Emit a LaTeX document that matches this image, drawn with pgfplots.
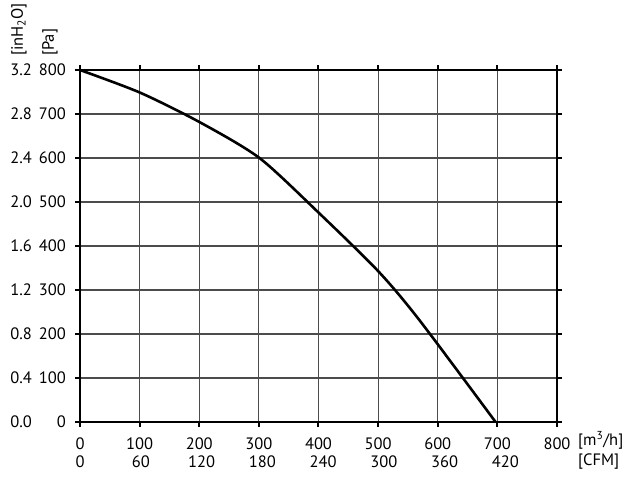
\documentclass[border=0pt]{standalone}
\usepackage{pgfplots}
\pgfplotsset{compat=1.18}
\usepackage{fontspec}
\setmainfont{PT Sans}
\newcommand{\fnt}{\fontsize{16.5bp}{18bp}\selectfont}
\newcommand{\yl}[2]{\makebox[22bp][r]{#1}\makebox[34bp][r]{#2}}
\begin{document}
\begin{tikzpicture}[font=\fnt]
\begin{axis}[
  at={(0,0)}, anchor=south west,
  scale only axis, width=477bp, height=352bp,
  xmin=0, xmax=800, ymin=0, ymax=800,
  xtick={0,100,...,800}, ytick={0,100,...,800},
  /pgf/number format/assume math mode=true,
  tick label style={font=\fnt},
  grid=major,
  major grid style={line width=1.2bp, black!70},
  axis line style={line width=2.6bp},
  tick align=outside, major tick length=5bp,
  tick style={line width=2bp, black},
  xticklabel style={anchor=north, inner sep=0pt, yshift=-11bp},
  yticklabel style={anchor=east, inner sep=0pt, xshift=-9bp},
  yticklabels={\yl{0.0}{0},\yl{0.4}{100},\yl{0.8}{200},\yl{1.2}{300},\yl{1.6}{400},
    \yl{2.0}{500},\yl{2.4}{600},\yl{2.8}{700},\yl{3.2}{800}},
  clip=false,
]
\addplot[black, line width=2.6bp, smooth, tension=0.45] coordinates {
  (0,800) (100,749) (200,682) (301,600) (400,476) (500,343) (569,232) (697,0)
};
\node[anchor=west, inner sep=0pt, font=\fnt] at ([xshift=21bp, yshift=-18bp]rel axis cs:1,0) {[m\textsuperscript{3}/h]};
\node[anchor=west, inner sep=0pt, font=\fnt] at ([xshift=21bp, yshift=-40bp]rel axis cs:1,0) {[CFM]};
\node[anchor=west, rotate=90, inner sep=0pt, font=\fnt] at ([xshift=-61bp, yshift=14bp]rel axis cs:0,1) {[inH\textsubscript{2}O]};
\node[anchor=west, rotate=90, inner sep=0pt, font=\fnt] at ([xshift=-30bp, yshift=14bp]rel axis cs:0,1) {[Pa]};
\end{axis}
\begin{axis}[
  at={(0,0)}, anchor=south west,
  scale only axis, width=477bp, height=352bp,
  xmin=0, xmax=470.865, ymin=0, ymax=1,
  hide y axis, axis x line*=bottom,
  x axis line style={draw=none},
  xtick={0,60,...,420}, major tick length=0pt,
  /pgf/number format/assume math mode=true,
  tick label style={font=\fnt},
  xticklabel style={anchor=north, inner sep=0pt, yshift=-34bp},
]
\end{axis}
\pgfresetboundingbox
\path[use as bounding box] (-80bp,-60bp) rectangle (552bp,422bp);
\end{tikzpicture}
\end{document}
